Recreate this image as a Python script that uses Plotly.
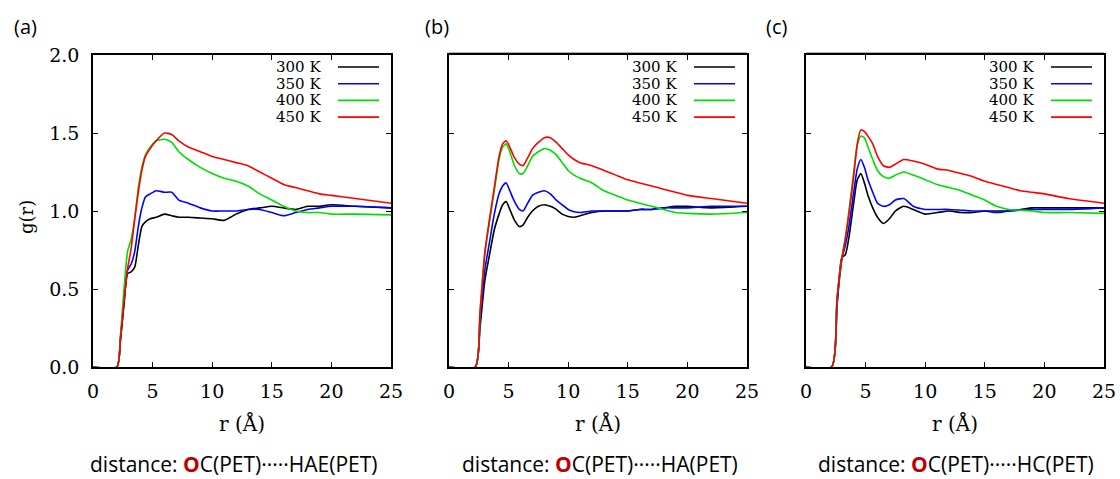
import plotly.graph_objects as go

W, H = 1120, 479

# ---------------- data ----------------
temps = ["300 K", "350 K", "400 K", "450 K"]
colors = ["#000000", "#0000ff", "#00dd00", "#ff0000"]

# panel (a)  O(C)...HAE
r_a = [0, 2.0, 2.3, 2.6, 2.9, 3.2, 3.5, 3.8, 4.1, 4.4, 4.8, 5.3, 6.0, 6.6, 7.2, 8, 9, 10, 11, 12,
       13, 14, 15, 16, 17, 18, 19, 20, 22, 25]
g_a_300 = [0, 0, 0.17, 0.40, 0.60, 0.61, 0.64, 0.78, 0.90, 0.93, 0.95, 0.96, 0.98, 0.97, 0.96, 0.96,
           0.955, 0.95, 0.94, 0.98, 1.01, 1.02, 1.03, 1.02, 1.01, 1.03, 1.03, 1.04, 1.03, 1.02]
g_a_350 = [0, 0, 0.18, 0.42, 0.62, 0.66, 0.74, 0.90, 1.02, 1.09, 1.11, 1.13, 1.12, 1.12, 1.07, 1.05,
           1.02, 1.00, 1.00, 1.00, 1.01, 1.01, 0.99, 0.97, 0.99, 1.01, 1.02, 1.03, 1.03, 1.02]
g_a_400 = [0, 0, 0.20, 0.50, 0.74, 0.82, 0.95, 1.15, 1.28, 1.36, 1.41, 1.45, 1.46, 1.44, 1.38, 1.33,
           1.28, 1.24, 1.21, 1.19, 1.16, 1.11, 1.07, 1.03, 1.00, 0.99, 0.99, 0.98, 0.98, 0.975]
g_a_450 = [0, 0, 0.18, 0.42, 0.63, 0.76, 0.95, 1.12, 1.26, 1.35, 1.40, 1.45, 1.50, 1.49, 1.45, 1.41,
           1.38, 1.35, 1.33, 1.31, 1.29, 1.25, 1.21, 1.17, 1.15, 1.13, 1.11, 1.10, 1.08, 1.05]

# panel (b)  O(C)...HA
r_b = [0, 2.2, 2.6, 3.0, 3.4, 3.8, 4.2, 4.5, 4.8, 5.1, 5.5, 5.9, 6.2, 6.6, 7.0, 7.5, 8.0, 8.5, 9.0,
       9.5, 10, 10.5, 11, 12, 13, 14, 15, 16, 17, 18, 19, 20, 22, 25]
g_b_300 = [0, 0, 0.25, 0.55, 0.72, 0.88, 0.98, 1.04, 1.06, 1.01, 0.94, 0.90, 0.91, 0.96, 1.00, 1.03,
           1.04, 1.03, 1.01, 0.98, 0.965, 0.96, 0.97, 0.99, 1.00, 1.00, 1.00, 1.01, 1.01, 1.02, 1.03,
           1.03, 1.02, 1.03]
g_b_350 = [0, 0, 0.30, 0.62, 0.80, 0.98, 1.11, 1.16, 1.18, 1.13, 1.06, 1.01, 1.00, 1.05, 1.10, 1.12,
           1.13, 1.11, 1.07, 1.04, 1.01, 0.995, 0.99, 1.00, 1.00, 1.00, 1.00, 1.01, 1.01, 1.02, 1.02,
           1.02, 1.03, 1.03]
g_b_400 = [0, 0, 0.35, 0.72, 0.93, 1.13, 1.33, 1.41, 1.43, 1.38, 1.29, 1.24, 1.24, 1.29, 1.35, 1.38,
           1.40, 1.39, 1.36, 1.31, 1.26, 1.23, 1.21, 1.18, 1.13, 1.10, 1.07, 1.05, 1.03, 1.01, 0.99,
           0.985, 0.98, 0.99]
g_b_450 = [0, 0, 0.35, 0.73, 0.95, 1.15, 1.35, 1.43, 1.45, 1.41, 1.34, 1.30, 1.29, 1.34, 1.40, 1.44,
           1.47, 1.47, 1.44, 1.40, 1.36, 1.33, 1.31, 1.29, 1.26, 1.23, 1.20, 1.18, 1.16, 1.14, 1.12,
           1.10, 1.08, 1.05]

# panel (c)  O(C)...HC
r_c = [0, 2.15, 2.6, 3.0, 3.3, 3.6, 4.0, 4.3, 4.6, 4.9, 5.2, 5.6, 6.0, 6.5, 7.0, 7.5, 8.2, 9, 10, 11,
       12, 13, 14, 15, 16, 17, 18, 19, 20, 22, 25]
g_c_300 = [0, 0, 0.40, 0.70, 0.72, 0.83, 1.05, 1.20, 1.24, 1.18, 1.10, 1.02, 0.96, 0.92, 0.95, 1.00,
           1.03, 1.01, 0.98, 0.99, 1.00, 0.99, 0.99, 1.00, 1.00, 1.00, 1.01, 1.02, 1.02, 1.02, 1.02]
g_c_350 = [0, 0, 0.40, 0.69, 0.78, 0.90, 1.12, 1.27, 1.33, 1.28, 1.20, 1.12, 1.05, 1.03, 1.04, 1.07,
           1.08, 1.03, 1.01, 1.01, 1.01, 1.005, 1.00, 1.00, 0.99, 1.00, 1.005, 1.01, 1.01, 1.01, 1.02]
g_c_400 = [0, 0, 0.44, 0.70, 0.83, 1.00, 1.25, 1.42, 1.48, 1.47, 1.41, 1.33, 1.26, 1.22, 1.21, 1.23,
           1.25, 1.23, 1.20, 1.17, 1.15, 1.13, 1.10, 1.07, 1.03, 1.01, 1.005, 1.00, 0.99, 0.99, 0.985]
g_c_450 = [0, 0, 0.44, 0.69, 0.82, 0.98, 1.22, 1.43, 1.52, 1.51, 1.48, 1.43, 1.35, 1.29, 1.28, 1.30,
           1.33, 1.32, 1.30, 1.27, 1.26, 1.24, 1.22, 1.19, 1.17, 1.15, 1.13, 1.12, 1.11, 1.08, 1.05]

panel_labels = ["(a)", "(b)", "(c)"]
partners = ["HAE(PET)", "HA(PET)", "HC(PET)"]
panels = [
    (r_a, [g_a_300, g_a_350, g_a_400, g_a_450]),
    (r_b, [g_b_300, g_b_350, g_b_400, g_b_450]),
    (r_c, [g_c_300, g_c_350, g_c_400, g_c_450]),
]

x_ticks = [0, 5, 10, 15, 20, 25]
y_ticks = [0.0, 0.5, 1.0, 1.5, 2.0]
y_ticklabels = ["0.0", "0.5", "1.0", "1.5", "2.0"]

# ---------------- layout geometry (pixels) ----------------
plot_left = [93, 449, 806]
plot_w = 298
plot_top, plot_bot = 55, 367
label_x = [12, 423, 764]
caption_cx = [234, 600, 956]


def px(x):
    return x / W


def py(y):
    return 1 - y / H


SERIF = "DejaVu Serif"
SANS = "Open Sans"

fig = go.Figure()
layout = dict(
    width=W, height=H, margin=dict(l=0, r=0, t=0, b=0, autoexpand=False),
    paper_bgcolor="white", plot_bgcolor="white", showlegend=False,
)
annotations = []
shapes = []

for i, (r, gs) in enumerate(panels):
    n = "" if i == 0 else str(i + 1)
    xa, ya = "x" + n, "y" + n
    for g, c, t in zip(gs, colors, temps):
        fig.add_trace(go.Scatter(x=r, y=g, mode="lines", name=t, xaxis=xa, yaxis=ya,
                                 line=dict(color=c, width=1.6, shape="spline", smoothing=0.6)))
    L = plot_left[i]
    axis_common = dict(showline=True, mirror="allticks", linecolor="black", linewidth=1.5,
                       ticks="inside", ticklen=5, tickwidth=1, tickcolor="black",
                       showgrid=False, zeroline=False, automargin=False,
                       tickfont=dict(family=SERIF, size=19, color="black"))
    layout["xaxis" + n] = dict(axis_common, domain=[px(L), px(L + plot_w)], range=[0, 25],
                               tickvals=x_ticks, anchor=ya, ticklabelstandoff=6)
    layout["yaxis" + n] = dict(axis_common, domain=[py(plot_bot), py(plot_top)], range=[0, 2],
                               tickvals=y_ticks, ticktext=y_ticklabels, anchor=xa,
                               showticklabels=(i == 0), ticklabelstandoff=8)
    # panel label
    annotations.append(dict(text=panel_labels[i], x=px(label_x[i]), y=py(26), xref="paper",
                            yref="paper", xanchor="left", yanchor="middle", showarrow=False,
                            font=dict(family=SANS, size=20, color="black")))
    # x-axis title
    annotations.append(dict(text="r (Å)", x=px(L + plot_w / 2), y=py(423), xref="paper",
                            yref="paper", xanchor="center", yanchor="middle", showarrow=False,
                            font=dict(family=SERIF, size=20, color="black")))
    # distance caption
    annotations.append(dict(
        text="distance: <b><span style='color:#c00000'>O</span></b>C(PET)·····" + partners[i],
        x=px(caption_cx[i]), y=py(464), xref="paper", yref="paper",
        xanchor="center", yanchor="middle", showarrow=False,
        font=dict(family=SANS, size=21, color="black")))
    # legend (gnuplot style: text right-aligned, then line sample)
    for k, (t, c) in enumerate(zip(temps, colors)):
        yy = 67 + k * 16.7
        annotations.append(dict(text=t, x=px(L + 230), y=py(yy), xref="paper", yref="paper",
                                xanchor="right", yanchor="middle", showarrow=False,
                                font=dict(family=SERIF, size=15, color="black")))
        shapes.append(dict(type="line", xref="paper", yref="paper",
                           x0=px(L + 245), x1=px(L + 286), y0=py(yy), y1=py(yy),
                           line=dict(color=c, width=1.6)))
    if i > 0:
        shapes.append(dict(type="line", xref="paper", yref="paper",
                           x0=px(L), x1=px(L + plot_w), y0=py(plot_top - 2.5),
                           y1=py(plot_top - 2.5), line=dict(color="#b0b0b0", width=1)))

# y-axis title
annotations.append(dict(text="g(r)", x=px(27), y=py(217), xref="paper", yref="paper",
                        xanchor="center", yanchor="middle", showarrow=False, textangle=-90,
                        font=dict(family=SERIF, size=18, color="black")))

layout["annotations"] = annotations
layout["shapes"] = shapes
fig.update_layout(**layout)
fig.write_html("out.html", config={"displayModeBar": False},
               post_script="document.body.style.margin='0px';document.body.style.overflow='hidden';")
